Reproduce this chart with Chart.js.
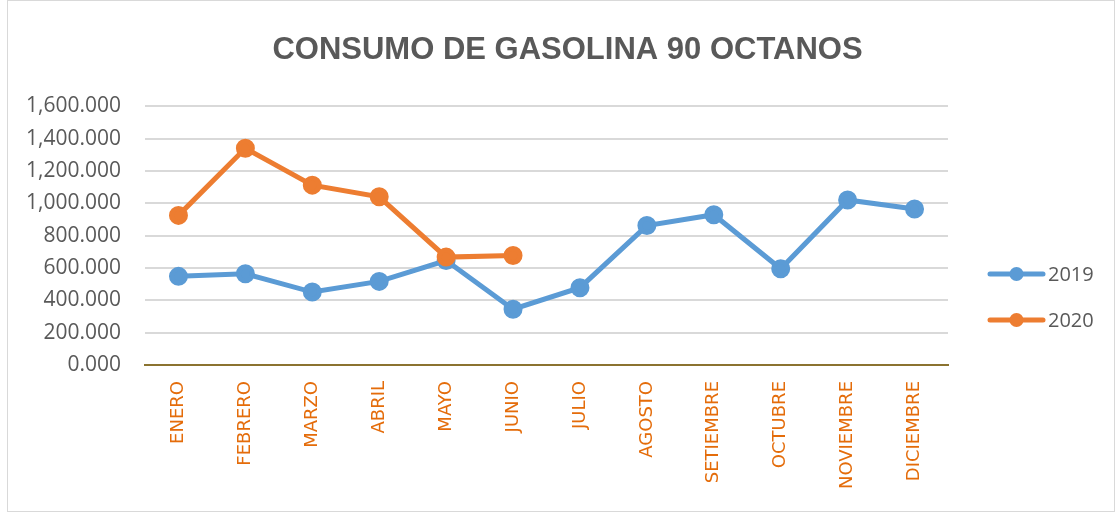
<!DOCTYPE html>
<html>
<head>
<meta charset="utf-8">
<script src="https://cdn.jsdelivr.net/npm/chart.js@4.4.0/dist/chart.umd.min.js"></script>
<style>
  body { margin: 0; background: #fff; }
  #marco { position: absolute; left: 7px; top: 0; width: 1106px; height: 510px; border: 1px solid #d9d9d9; }
  canvas { position: absolute; left: 0; top: 0; }
</style>
</head>
<body>
<div id="marco"></div>
<canvas id="graficoGasolina" width="1115" height="512"></canvas>
<script>
// Datos del gráfico
const meses = ['ENERO', 'FEBRERO', 'MARZO', 'ABRIL', 'MAYO', 'JUNIO', 'JULIO', 'AGOSTO', 'SETIEMBRE', 'OCTUBRE', 'NOVIEMBRE', 'DICIEMBRE'];
const consumo2019 = [548, 564, 451, 517, 646, 345, 478, 862, 929, 595, 1020, 964];
const consumo2020 = [925, 1340, 1112, 1040, 667, 677, null, null, null, null, null, null];
const etiquetasY = ['0.000', '200.000', '400.000', '600.000', '800.000', '1,000.000', '1,200.000', '1,400.000', '1,600.000'];

const azul = '#5B9BD5';
const naranja = '#ED7D31';

// Leyenda al estilo Excel (línea con círculo), dibujada a la derecha
const leyendaExcel = {
    id: 'leyendaExcel',
    afterDraw(chart) {
        const g = chart.ctx;
        const x0 = 988, largo = 57;
        const filas = [274, 320];
        g.save();
        chart.data.datasets.forEach((ds, i) => {
            const y = filas[i];
            g.strokeStyle = ds.borderColor;
            g.fillStyle = ds.borderColor;
            g.lineWidth = 5;
            g.lineCap = 'round';
            g.beginPath(); g.moveTo(x0 + 2, y); g.lineTo(x0 + largo - 2, y); g.stroke();
            g.beginPath(); g.arc(x0 + largo / 2, y, 7, 0, Math.PI * 2); g.fill();
            g.fillStyle = '#595959';
            g.font = "20px 'Open Sans', sans-serif";
            g.textBaseline = 'middle';
            g.textAlign = 'left';
            g.fillText(ds.label, x0 + largo + 3, y + 1);
        });
        g.restore();
    }
};

const data = {
    labels: meses,
    datasets: [
        {
            label: '2019',
            data: consumo2019,
            borderColor: azul,
            backgroundColor: azul,
            borderWidth: 5,
            pointRadius: 7,
            pointHoverRadius: 7,
            order: 1
        },
        {
            label: '2020',
            data: consumo2020,
            borderColor: naranja,
            backgroundColor: naranja,
            borderWidth: 5,
            pointRadius: 7,
            pointHoverRadius: 7,
            order: 0
        }
    ]
};

const config = {
    type: 'line',
    data: data,
    plugins: [leyendaExcel],
    options: {
        responsive: false,
        animation: false,
        layout: { padding: { left: 20, right: 0, bottom: 0, top: 0 } },
        plugins: {
            title: {
                display: true,
                text: 'CONSUMO DE GASOLINA 90 OCTANOS',
                color: '#595959',
                font: { family: "'Liberation Sans', Arial", size: 31, weight: 'bold' },
                padding: { top: 32, bottom: 37 }
            },
            legend: { display: false },
            tooltip: { enabled: false }
        },
        scales: {
            x: {
                offset: true,
                grid: { display: false, drawTicks: false },
                border: { color: '#8B7330', width: 2 },
                ticks: {
                    color: '#E46C0A',
                    font: { family: "'DejaVu Sans'", size: 18 },
                    minRotation: 90,
                    maxRotation: 90,
                    padding: 16
                },
                afterFit: (scale) => { scale.height = 147; }
            },
            y: {
                min: 0,
                max: 1600,
                ticks: {
                    stepSize: 200,
                    color: '#595959',
                    font: { family: "'Open Sans', sans-serif", size: 21 },
                    padding: 24,
                    callback: (value, index) => etiquetasY[index]
                },
                grid: { color: '#d9d9d9', lineWidth: 2, drawTicks: false },
                border: { display: false },
                afterFit: (scale) => { scale.width = 125; }
            },
            // eje vacío para dejar sitio a la leyenda
            espacio: {
                position: 'right',
                display: true,
                grid: { display: false, drawTicks: false },
                border: { display: false },
                ticks: { display: false },
                afterFit: (scale) => { scale.width = 167; }
            }
        }
    }
};

// Renderizar el gráfico
const ctx = document.getElementById('graficoGasolina').getContext('2d');
new Chart(ctx, config);
</script>
</body>
</html>
